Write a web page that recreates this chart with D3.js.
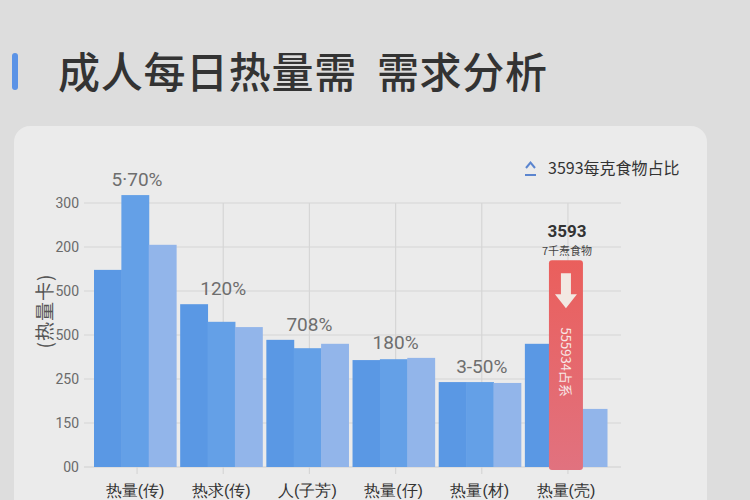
<!DOCTYPE html>
<html><head><meta charset="utf-8">
<script src="https://cdn.jsdelivr.net/npm/d3@7"></script>
<style>
html,body{margin:0;padding:0;background:#dddddd;}
svg{display:block;font-family:"Noto Sans CJK SC","Noto Sans",sans-serif;}
</style></head>
<body><svg id="c" width="750" height="500"></svg>
<script>
const titleMain = "成人每日热量需";
const titleRest = "需求分析";
const categories = ["热量(传)","热求(传)","人(子芳)","热量(仔)","热量(材)","热量(壳)"];
const seriesA = [4.48, 3.70, 2.89, 2.43, 1.93, 2.80];
const seriesB = [6.18, 3.30, 2.70, 2.45, 1.93, 4.70];
const seriesC = [5.05, 3.18, 2.80, 2.48, 1.91, 1.32];
const yTickValues = [0, 1, 2, 3, 4, 5, 6];
const yTickLabels = ["00", "150", "250", "500", "500", "200", "300"];
const groupLabels = ["5·70%", "120%", "708%", "180%", "3-50%", ""];
const highlightIndex = 5;
const highlightValue = "3593";
const highlightSub = "7千焘食物";
const highlightText = "555934占系";
const legendText = "3593每克食物占比";
const yTitle = "(热量卡)";

const svg = d3.select("#c");
const defs = svg.append("defs");
const rg = defs.append("linearGradient").attr("id","redg").attr("x1",0).attr("y1",0).attr("x2",0).attr("y2",1);
rg.append("stop").attr("offset","0%").attr("stop-color","#ea5f5c");
rg.append("stop").attr("offset","100%").attr("stop-color","#e1727f");

// page background
svg.append("rect").attr("width",750).attr("height",500).attr("fill","#dddddd");
// title
svg.append("rect").attr("x",12).attr("y",53).attr("width",6).attr("height",37).attr("rx",3).attr("fill","#5b93e6");
const tt = svg.append("text").attr("x",58).attr("y",88).attr("font-size",42).attr("font-weight",500)
  .attr("fill","#333").attr("letter-spacing",0.7);
tt.append("tspan").text(titleMain);
tt.append("tspan").attr("dx",20).text(titleRest);

// card
svg.append("rect").attr("x",14).attr("y",126).attr("width",693).attr("height",400).attr("rx",16).attr("fill","#ebebeb");

// scales
const x = d3.scaleBand().domain(categories).range([94, 607]).paddingInner(0.047).paddingOuter(0);
const y = d3.scaleLinear().domain([0, 6]).range([467, 203]);

// horizontal grid
svg.append("g").selectAll("line").data(yTickValues).join("line")
  .attr("x1",84).attr("x2",621).attr("y1",d=>y(d)).attr("y2",d=>y(d))
  .attr("stroke",d=>d===0?"#cfcfcf":"#d6d6d6").attr("stroke-width",1.2);
// vertical grid
svg.append("g").selectAll("line").data(categories).join("line")
  .attr("x1",d=>x(d)+x.bandwidth()/2+2).attr("x2",d=>x(d)+x.bandwidth()/2+2)
  .attr("y1",203).attr("y2",474).attr("stroke","#d6d6d6").attr("stroke-width",1.2);

// y axis
const yAxis = d3.axisLeft(y).tickValues(yTickValues).tickFormat((d,i)=>yTickLabels[i]).tickSize(0).tickPadding(0);
const ya = svg.append("g").attr("transform","translate(79,0)").call(yAxis);
ya.select(".domain").remove();
ya.selectAll("text").attr("font-size",14).attr("fill","#6a6a6a").attr("font-family","Roboto,'Noto Sans',sans-serif");

svg.append("text").attr("transform","translate(52,311) rotate(-90)").attr("text-anchor","middle")
  .attr("font-size",19).attr("fill","#555").attr("letter-spacing",1).text(yTitle);

// x axis
const xAxis = d3.axisBottom(x).tickSize(0).tickPadding(0);
const xa = svg.append("g").attr("transform","translate(0,481)").call(xAxis);
xa.select(".domain").remove();
xa.selectAll("text").attr("font-size",16).attr("fill","#333").attr("dy","0.95em");

// bars
const sub = d3.scaleBand().domain(["A","B","C"]).range([0, x.bandwidth()]);
const colors = {A:"#5a98e4", B:"#64a0e7", C:"#92b5ea"};
const series = {A:seriesA, B:seriesB, C:seriesC};
const gb = svg.append("g");
["A","B","C"].forEach(k=>{
  gb.selectAll(null).data(categories).join("rect")
    .filter((d,i)=>!(k==="B" && i===highlightIndex))
    .attr("x",d=>x(d)+sub(k)).attr("width",sub.bandwidth()+0.5)
    .attr("y",(d,i)=>y(series[k][categories.indexOf(d)]))
    .attr("height",(d)=>y(0)-y(series[k][categories.indexOf(d)]))
    .attr("fill",colors[k]);
});

// group labels
svg.append("g").selectAll("text").data(categories.filter((d,i)=>groupLabels[i])).join("text")
  .attr("x",d=>x(d)+x.bandwidth()/2+2)
  .attr("y",d=>{const i=categories.indexOf(d);return y(Math.max(seriesA[i],seriesB[i],seriesC[i]))-9;})
  .attr("text-anchor","middle").attr("font-size",19).attr("fill","#6e6e6e")
  .attr("font-family","Roboto,'Noto Sans',sans-serif")
  .text(d=>groupLabels[categories.indexOf(d)]);

// highlight bar
const hc = categories[highlightIndex];
const hx = x(hc)+x.bandwidth()/2;
const hv = seriesB[highlightIndex];
const hw = 34;
svg.append("rect").attr("x",hx-hw/2).attr("y",y(hv)).attr("width",hw).attr("height",y(0)-y(hv)+3)
  .attr("rx",3).attr("fill","url(#redg)");
const ay = y(hv);
svg.append("path")
  .attr("d",`M${hx-5},${ay+13}H${hx+5}V${ay+34}H${hx+11}L${hx},${ay+48}L${hx-11},${ay+34}H${hx-5}Z`)
  .attr("fill","#f2e8e2");
svg.append("text").attr("transform",`translate(${hx},${ay+102}) rotate(90)`).attr("text-anchor","middle")
  .attr("dy","0.35em").attr("font-size",13).attr("fill","#f7e6e6").text(highlightText);
svg.append("text").attr("x",hx+1).attr("y",ay-23).attr("text-anchor","middle").attr("font-size",17)
  .attr("font-weight",700).attr("fill","#333").attr("font-family","Roboto,'Noto Sans',sans-serif").text(highlightValue);
svg.append("text").attr("x",hx+1).attr("y",ay-5).attr("text-anchor","middle").attr("font-size",11)
  .attr("fill","#444").text(highlightSub);

// legend
svg.append("path").attr("d","M526,168 L530.5,162.5 L535,168").attr("fill","none").attr("stroke","#5b85cf").attr("stroke-width",2);
svg.append("line").attr("x1",525).attr("x2",536).attr("y1",175).attr("y2",175).attr("stroke","#5b85cf").attr("stroke-width",2);
svg.append("text").attr("x",548).attr("y",174).attr("font-size",16).attr("fill","#333").text(legendText);
</script></body></html>
